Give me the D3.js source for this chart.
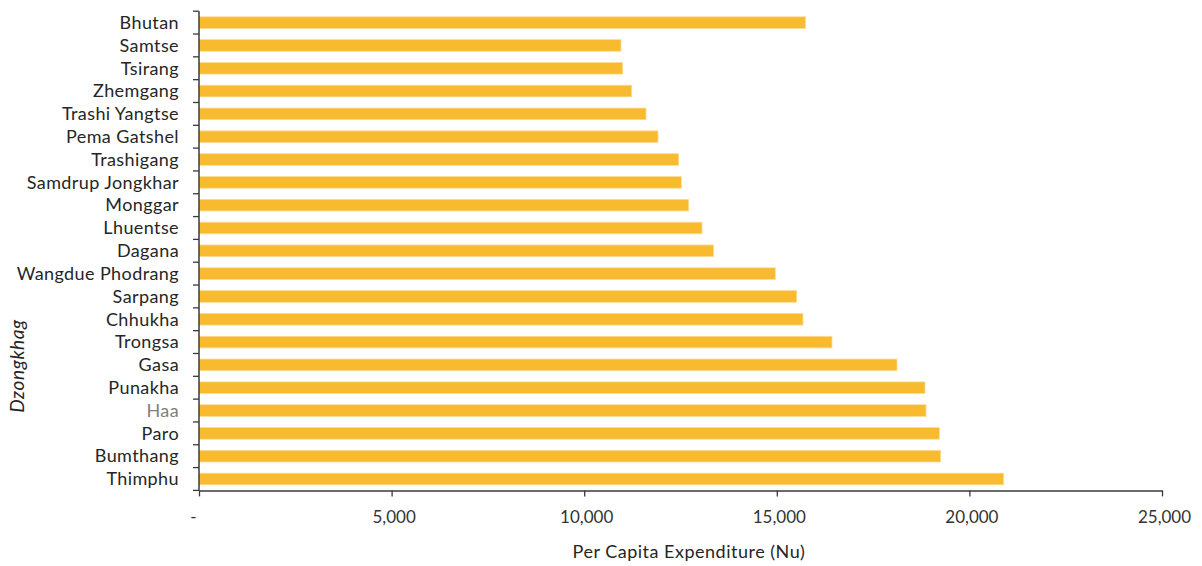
<!DOCTYPE html>
<html>
<head>
<meta charset="utf-8">
<script src="https://cdn.jsdelivr.net/npm/d3@7"></script>
<style>
  html, body { margin: 0; padding: 0; background: #fff; }
  svg { display: block; font-family: Lato, "Open Sans", sans-serif; }
</style>
</head>
<body>
<svg id="chart" width="1202" height="566"></svg>
<script>
const categories = ["Bhutan","Samtse","Tsirang","Zhemgang","Trashi Yangtse","Pema Gatshel","Trashigang","Samdrup Jongkhar","Monggar","Lhuentse","Dagana","Wangdue Phodrang","Sarpang","Chhukha","Trongsa","Gasa","Punakha","Haa","Paro","Bumthang","Thimphu"];
const values = [15745,10955,11000,11233,11604,11916,12453,12521,12713,13058,13357,14961,15517,15680,16433,18120,18847,18873,19219,19255,20890];
const xTicks = [0,5000,10000,15000,20000,25000];
const xTitle = "Per Capita Expenditure (Nu)";
const yTitle = "Dzongkhag";

const svg = d3.select("#chart");
const m = {left: 199, right: 1162, top: 11.2, bottom: 490.4};

const x = d3.scaleLinear().domain([0, 25000]).range([m.left, m.right]);
const y = d3.scaleBand().domain(categories).range([m.top, m.bottom]).paddingInner(0.49).paddingOuter(0.245);

// bars
svg.append("g").selectAll("rect").data(categories).join("rect")
  .attr("x", x(0))
  .attr("y", d => y(d))
  .attr("width", (d, i) => x(values[i]) - x(0))
  .attr("height", y.bandwidth())
  .attr("fill", "#F8BA2E")
  .attr("stroke", "#FCDC94")
  .attr("stroke-width", 0.8);

// y axis line & ticks at band boundaries
const yg = svg.append("g");
yg.append("line").attr("x1", m.left).attr("x2", m.left).attr("y1", m.top).attr("y2", m.bottom)
  .attr("stroke", "#3a3a3a").attr("stroke-width", 1.5);
const step = y.step();
d3.range(categories.length + 1).forEach(i => {
  const yy = y.range()[0] + i * step;
  yg.append("line").attr("x1", m.left - 6).attr("x2", m.left).attr("y1", yy).attr("y2", yy)
    .attr("stroke", "#3a3a3a").attr("stroke-width", 1.3);
});
yg.selectAll("text.cat").data(categories).join("text")
  .attr("class", "cat")
  .attr("x", 179)
  .attr("y", d => y(d) + y.bandwidth() / 2)
  .attr("dy", "0.35em")
  .attr("text-anchor", "end")
  .attr("font-size", 18)
  .attr("letter-spacing", 0.4)
  .attr("fill", d => d === "Haa" ? "#808080" : "#262626")
  .text(d => d);

// x axis
const xAxis = d3.axisBottom(x).tickValues(xTicks).tickSize(6).tickSizeOuter(0)
  .tickFormat(d => d === 0 ? "-" : d3.format(",")(d));
const xg = svg.append("g").attr("transform", `translate(0,${m.bottom})`).call(xAxis);
xg.select(".domain").attr("stroke", "#3a3a3a").attr("stroke-width", 1.5);
xg.selectAll(".tick line").attr("stroke", "#3a3a3a").attr("stroke-width", 1.3);
xg.selectAll(".tick text")
  .attr("y", 27)
  .attr("dy", "0.35em")
  .attr("font-size", 17)
  .attr("font-family", "Lato, sans-serif")
  .attr("fill", "#333")
  .attr("dx", d => d === 0 ? -6 : 2);

// titles
svg.append("text")
  .attr("x", 689).attr("y", 552).attr("dy", "0.35em")
  .attr("text-anchor", "middle").attr("font-size", 18).attr("letter-spacing", 0.5).attr("fill", "#262626")
  .text(xTitle);
svg.append("text")
  .attr("transform", "translate(17,366) rotate(-90)")
  .attr("dy", "0.35em")
  .attr("text-anchor", "middle").attr("font-size", 19).attr("letter-spacing", 0.6).attr("font-style", "italic").attr("fill", "#262626")
  .text(yTitle);
</script>
</body>
</html>
